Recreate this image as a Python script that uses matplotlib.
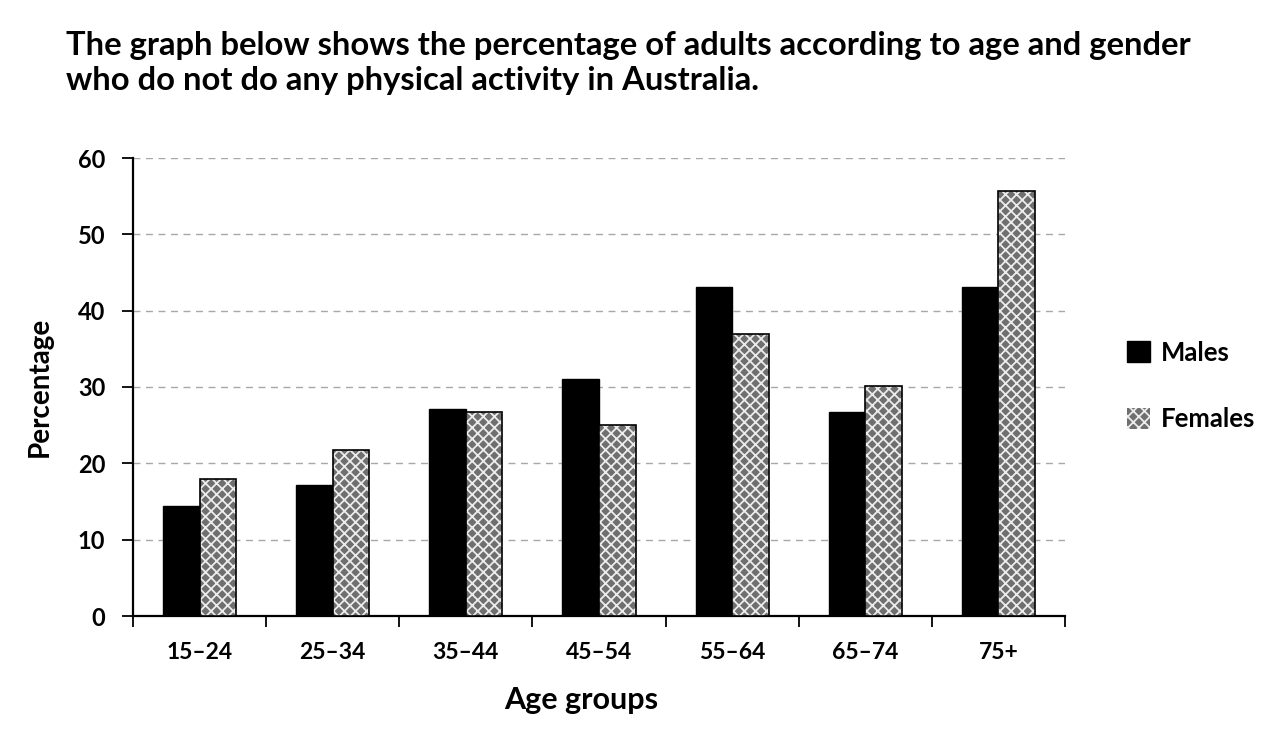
import matplotlib
matplotlib.use("Agg")
import matplotlib.pyplot as plt
import numpy as np
from matplotlib.patches import Patch

categories = ["15–24", "25–34", "35–44", "45–54", "55–64", "65–74", "75+"]
males = [14.4, 17.1, 27.1, 31.0, 43.1, 26.7, 43.1]
females = [17.9, 21.7, 26.7, 25.0, 36.9, 30.1, 55.7]
yticks = [0, 10, 20, 30, 40, 50, 60]
title = ("The graph below shows the percentage of adults according to age and gender\n"
         "who do not do any physical activity in Australia.")

FONT = ["Lato", "DejaVu Sans"]
plt.rcParams['font.family'] = FONT
plt.rcParams['font.weight'] = 'bold'
plt.rcParams['hatch.linewidth'] = 1.3

fig = plt.figure(figsize=(12.8, 7.45), dpi=100)
ax = fig.add_axes([133/1280, 1-616/745, (1065-133)/1280, (616-158)/745])

x = np.arange(len(categories))
w = 0.275
ax.bar(x - w/2, males, width=w, color='black', edgecolor='black', linewidth=1.0, zorder=3)
ax.bar(x + w/2, females, width=w, facecolor='#6f6f6f', edgecolor='#ececec', hatch='xxx',
       linewidth=0, zorder=3)
ax.bar(x + w/2, females, width=w, fill=False, edgecolor='black', linewidth=1.2, zorder=4)

ax.set_xlim(-0.5, len(categories) - 0.5)
ax.set_ylim(0, 60)
ax.set_yticks(yticks)
ax.set_yticklabels([str(v) for v in yticks], fontsize=17, fontweight='bold')
ax.set_xticks(x)
ax.set_xticklabels(categories, fontsize=16.5, fontweight='bold')
ax.set_xticks(np.arange(len(categories) + 1) - 0.5, minor=True)
ax.tick_params(axis='x', which='major', length=0, pad=19)
ax.tick_params(axis='x', which='minor', length=8, width=1.3, direction='out')
ax.tick_params(axis='y', which='major', length=8, width=1.3, direction='out', pad=12)

for s in ['top', 'right']:
    ax.spines[s].set_visible(False)
for s in ['left', 'bottom']:
    ax.spines[s].set_linewidth(1.6)

ax.yaxis.grid(True, linestyle=(0, (5, 4)), color='#a8a8a8', linewidth=1.0, zorder=0)
ax.set_axisbelow(True)

ax.set_ylabel("Percentage", fontsize=20, fontweight='bold', labelpad=18)
fig.text(581/1280, 1-700/745, "Age groups", fontsize=22, fontweight='bold',
         ha='center', va='center')

fig.text(66/1280, 1-63/745, title, fontsize=23.6, fontweight='bold', ha='left', va='center',
         linespacing=1.28)

handles = [Patch(facecolor='black', edgecolor='black', label='Males'),
           Patch(facecolor='#6f6f6f', edgecolor='#ececec', hatch='xxx', linewidth=0, label='Females')]
leg = fig.legend(handles=handles, loc='center left', bbox_to_anchor=(1104/1280, 1-386/745),
                 frameon=False, fontsize=18.5, handlelength=0.88, handleheight=0.88,
                 labelspacing=1.65, handletextpad=0.45)

fig.savefig("out.png", dpi=100, facecolor='white')
